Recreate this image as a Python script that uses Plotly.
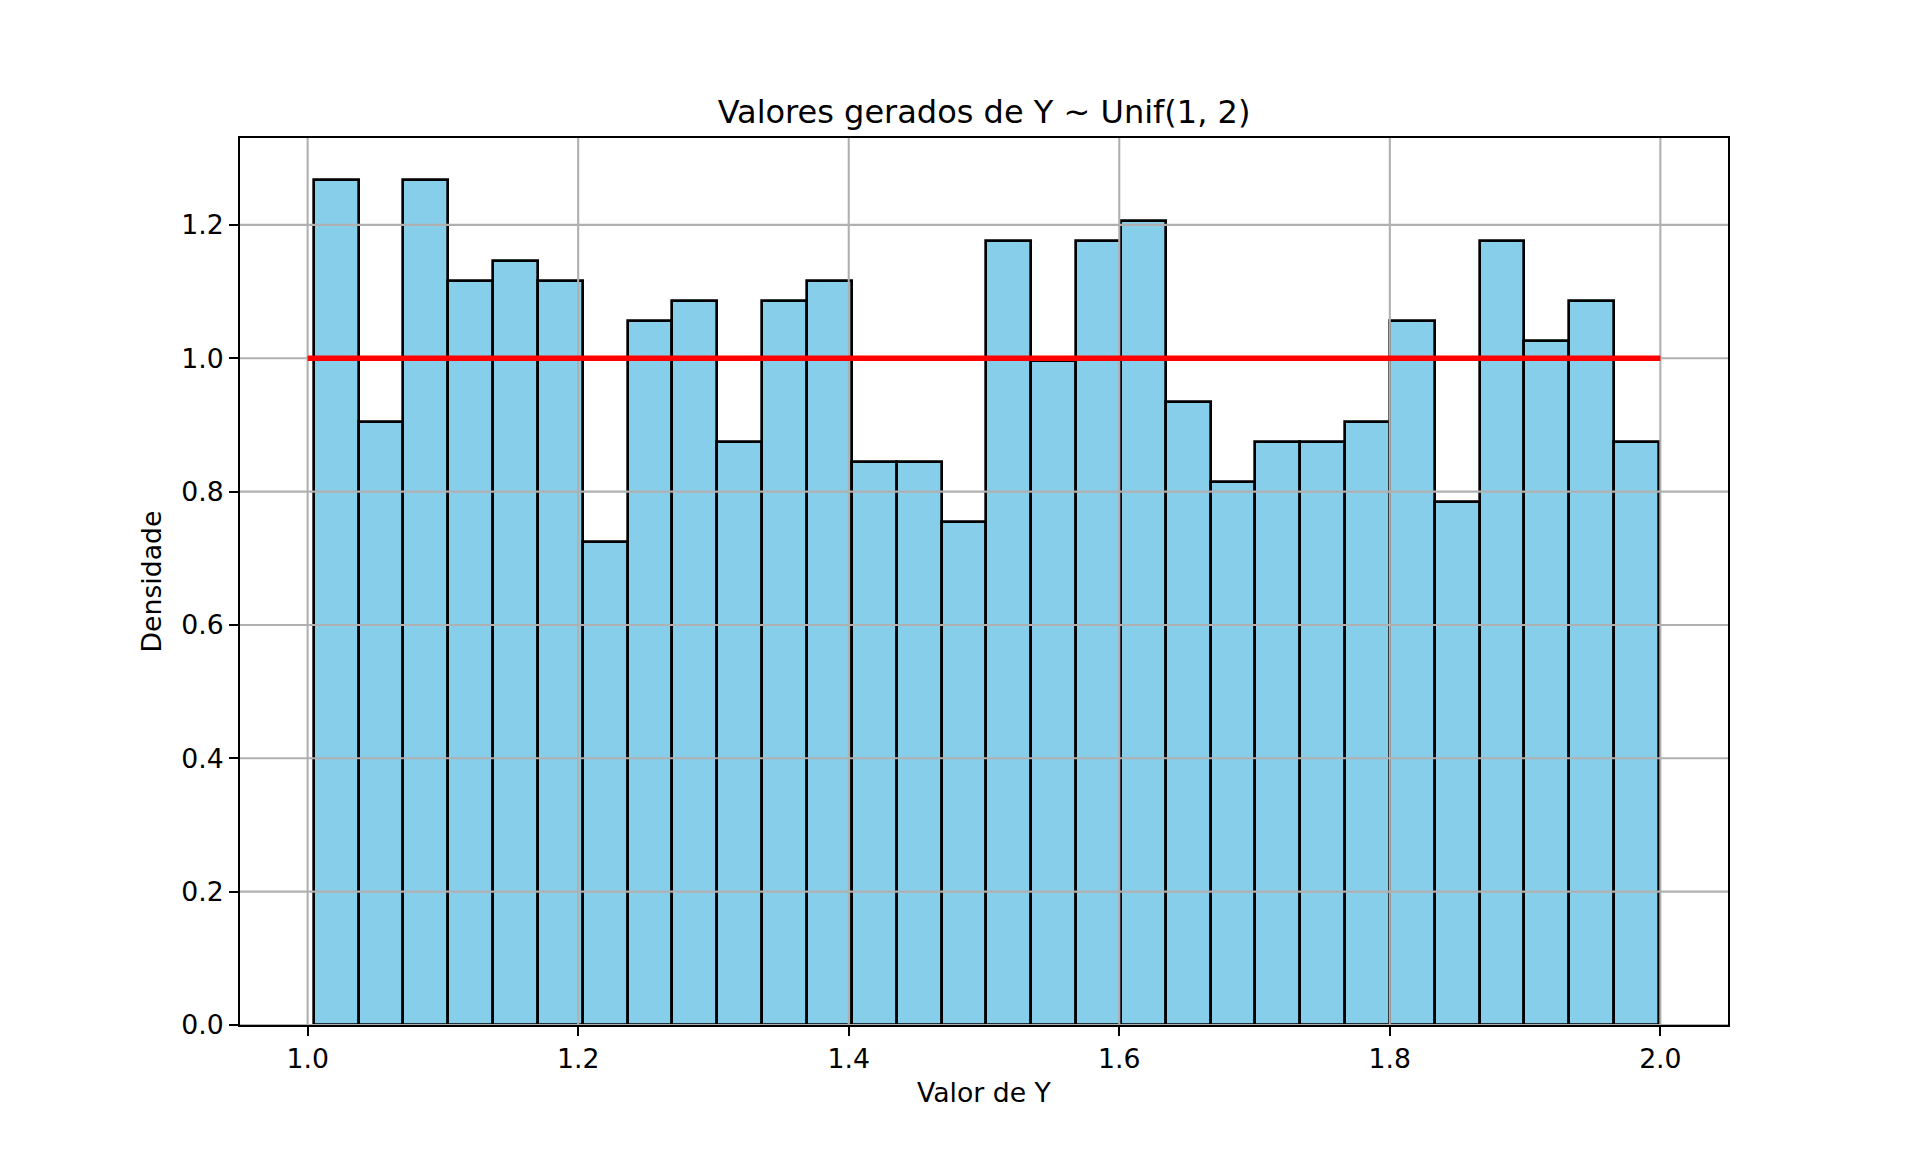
import numpy as np
import plotly.graph_objects as go

# histogram of 1000 draws of Y ~ Unif(1, 2), 30 bins, density scale
y_min = 1.0045
y_max = 1.9990
n_bins = 30
densidade = [1.2670, 0.9050, 1.2670, 1.1161, 1.1463, 1.1161, 0.7240, 1.0558, 1.0860, 0.8748,
             1.0860, 1.1161, 0.8446, 0.8446, 0.7541, 1.1765, 0.9955, 1.1765, 1.2066, 0.9351,
             0.8145, 0.8748, 0.8748, 0.9050, 1.0558, 0.7843, 1.1765, 1.0256, 1.0860, 0.8748]

# theoretical density of Unif(1, 2)
pdf_x = [1.0, 2.0]
pdf_y = [1.0, 1.0]

x_ticks = [1.0, 1.2, 1.4, 1.6, 1.8, 2.0]
y_ticks = [0.0, 0.2, 0.4, 0.6, 0.8, 1.0, 1.2]

edges = np.linspace(y_min, y_max, n_bins + 1)
centers = (edges[:-1] + edges[1:]) / 2
widths = np.diff(edges)

x_range = [0.95, 2.05]
y_range = [0, 1.05 * max(densidade)]

fig = go.Figure()
fig.add_trace(go.Bar(x=centers, y=densidade, width=widths,
                     marker=dict(color='#87CEEB', line=dict(color='black', width=2.67)),
                     name='hist', showlegend=False))

# matplotlib draws the grid over the bars but under the line, so do it as a trace
grid = {'x': [], 'y': []}
for t in x_ticks:
	grid['x'].extend([t, t, None])
	grid['y'].extend([y_range[0], y_range[1], None])
for t in y_ticks:
	grid['x'].extend([x_range[0], x_range[1], None])
	grid['y'].extend([t, t, None])
fig.add_trace(go.Scatter(**grid, mode='lines', line=dict(color='#b0b0b0', width=2.1),
                         hoverinfo='skip', showlegend=False, cliponaxis=True))

fig.add_trace(go.Scatter(x=pdf_x, y=pdf_y, mode='lines', line=dict(color='red', width=5.3),
                         name='pdf', showlegend=False))

axis_style = dict(showline=True, mirror=True, linecolor='black', linewidth=2,
                  ticks='outside', ticklen=9, tickwidth=2, tickcolor='black',
                  showgrid=False, zeroline=False, tickfont=dict(size=26.7, color='black'))

# the page body has an 8px margin, so the plot area is shifted back by that much
fig.update_layout(
	width=1920, height=1152,
	margin=dict(l=232, r=200, t=130, b=135, pad=0),
	paper_bgcolor='white', plot_bgcolor='white',
	font=dict(family='DejaVu Sans', color='black', size=26.7),
	bargap=0,
	title=dict(text='Valores gerados de Y ~ Unif(1, 2)', font=dict(size=32),
	           x=0.5 * (232 + 1720) / 1920, xanchor='center',
	           y=1 - 104 / 1152, yanchor='middle'),
	xaxis=dict(range=x_range, tickvals=x_ticks, ticktext=[f'{t:.1f}' for t in x_ticks],
	           title=dict(text='Valor de Y', standoff=10, font=dict(size=26.7)), **axis_style),
	yaxis=dict(range=y_range, tickvals=y_ticks, ticktext=[f'{t:.1f}' for t in y_ticks],
	           title=dict(text='Densidade', standoff=12, font=dict(size=26.7)), **axis_style),
)

fig.write_html("out.html")
